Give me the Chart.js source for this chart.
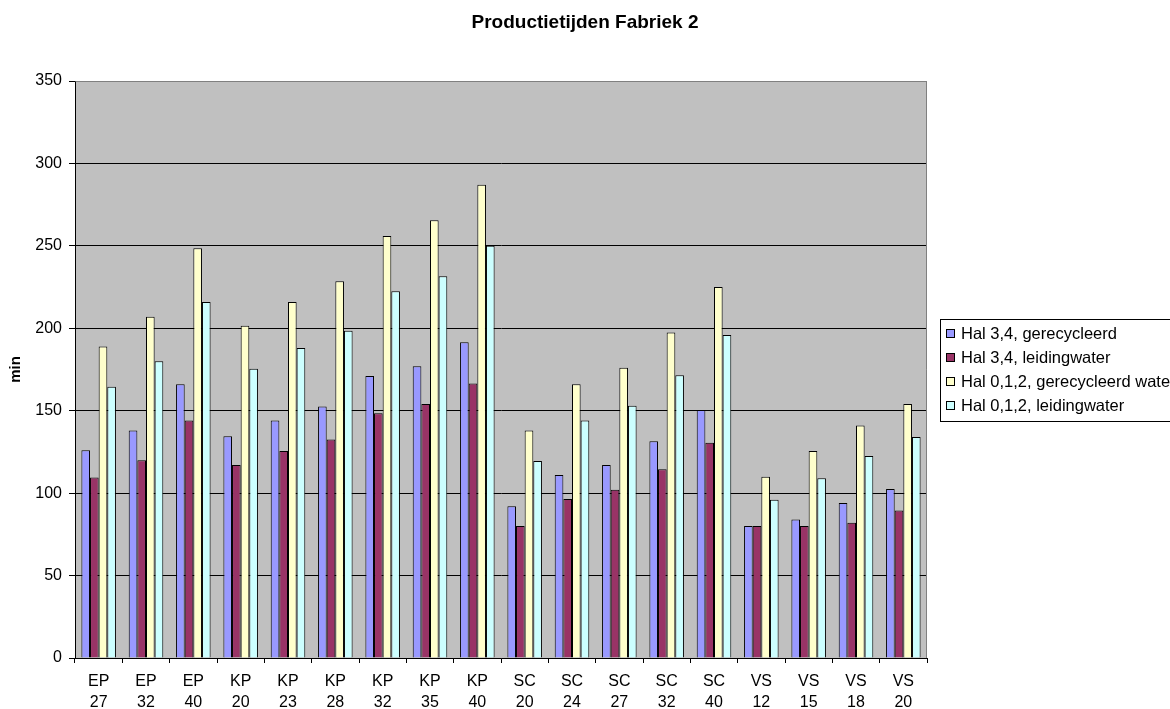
<!DOCTYPE html>
<html>
<head>
<meta charset="utf-8">
<title>Productietijden Fabriek 2</title>
<script src="https://cdn.jsdelivr.net/npm/chart.js@4/dist/chart.umd.min.js"></script>
<style>
  html, body { margin: 0; padding: 0; background: #ffffff; }
  #wrap { width: 1170px; height: 709px; position: relative; }
</style>
</head>
<body>
<div id="wrap"><canvas id="chart" width="1170" height="709"></canvas></div>
<script>
// Product groups and sizes (two-line category labels)
const productTypes = ["EP", "EP", "EP", "KP", "KP", "KP", "KP", "KP", "KP", "SC", "SC", "SC", "SC", "SC", "VS", "VS", "VS", "VS"];
const productSizes = ["27", "32", "40", "20", "23", "28", "32", "35", "40", "20", "24", "27", "32", "40", "12", "15", "18", "20"];

// Production times in minutes
const hal34Gerecycleerd = [126, 138, 166, 134.5, 144, 152.5, 171, 177, 191.5, 92, 111, 117, 131.5, 150.5, 80, 84, 94, 102.5];
const hal34Leidingwater = [109.5, 120, 144, 117, 125.5, 132.5, 148.5, 154, 166.5, 80, 96.5, 102, 114.5, 130.5, 80, 80, 82, 89.5];
const hal012Gerecycleerd = [189, 207, 248.5, 201.5, 216, 228.5, 256, 265.5, 287, 138, 166, 176, 197.5, 225, 110, 125.5, 141, 154];
const hal012Leidingwater = [164.5, 180, 216, 175.5, 188, 198.5, 222.5, 231.5, 250, 119.5, 144, 153, 171.5, 196, 96, 109, 122.5, 134];

const seriesNames = ["Hal 3,4, gerecycleerd", "Hal 3,4, leidingwater", "Hal 0,1,2, gerecycleerd water", "Hal 0,1,2, leidingwater"];
const seriesColors = ["#9999FF", "#993366", "#FFFFCC", "#CCFFFF"];

const yTicks = { min: 0, max: 350, step: 50 };
const chartTitle = "Productietijden Fabriek 2";
const yTitle = "min";

const FONT = "'Liberation Sans', Arial, Helvetica, sans-serif";

const labels = productTypes.map((t, i) => [t, productSizes[i]]);
const seriesValues = [hal34Gerecycleerd, hal34Leidingwater, hal012Gerecycleerd, hal012Leidingwater];

// Grey plot background and the grey frame on top/right
const plotBackground = {
  id: "plotBackground",
  beforeDraw(chart) {
    const { ctx, chartArea: a } = chart;
    ctx.save();
    ctx.fillStyle = "#C0C0C0";
    ctx.fillRect(a.left, a.top, a.right - a.left, a.bottom - a.top);
    ctx.restore();
  },
  afterDatasetsDraw(chart) {
    const { ctx, chartArea: a } = chart;
    ctx.save();
    ctx.strokeStyle = "#808080";
    ctx.lineWidth = 1;
    ctx.beginPath();
    ctx.moveTo(Math.round(a.left) + 0.5, Math.round(a.top) + 0.5);
    ctx.lineTo(Math.round(a.right) - 0.5, Math.round(a.top) + 0.5);
    ctx.lineTo(Math.round(a.right) - 0.5, Math.round(a.bottom));
    ctx.stroke();
    ctx.restore();
  }
};

// Chart title centred over the whole canvas
const pageTitle = {
  id: "pageTitle",
  afterDraw(chart) {
    const { ctx, width } = chart;
    ctx.save();
    ctx.font = "bold 19px " + FONT;
    ctx.fillStyle = "#000";
    ctx.textAlign = "center";
    ctx.textBaseline = "alphabetic";
    ctx.fillText(chartTitle, width / 2, 28);
    ctx.restore();
  }
};

// Boxed legend to the right of the plot, centred on the plot height
const boxedLegend = {
  id: "boxedLegend",
  afterDraw(chart) {
    const { ctx, chartArea: a } = chart;
    const sets = chart.data.datasets;
    const rowH = 24;
    const boxH = sets.length * rowH + 6;
    const left = Math.round(a.right) + 13;
    const top = Math.round((a.top + a.bottom) / 2 - boxH / 2);
    ctx.save();
    ctx.fillStyle = "#fff";
    ctx.fillRect(left, top, 400, boxH);
    ctx.strokeStyle = "#000";
    ctx.lineWidth = 1;
    ctx.strokeRect(left + 0.5, top + 0.5, 400, boxH);
    ctx.font = "16.5px " + FONT;
    ctx.textBaseline = "middle";
    ctx.textAlign = "left";
    sets.forEach((ds, i) => {
      const cy = top + 15 + i * rowH;
      ctx.fillStyle = ds.backgroundColor;
      ctx.fillRect(left + 6, cy - 5, 9, 9);
      ctx.strokeStyle = "#000";
      ctx.strokeRect(left + 6.5, cy - 4.5, 8, 8);
      ctx.fillStyle = "#000";
      ctx.fillText(ds.label, left + 21, cy);
    });
    ctx.restore();
  }
};

new Chart(document.getElementById("chart"), {
  type: "bar",
  data: {
    labels: labels,
    datasets: seriesValues.map((vals, i) => ({
      label: seriesNames[i],
      data: vals,
      backgroundColor: seriesColors[i],
      borderColor: "#000000",
      borderWidth: 1,
      borderSkipped: "bottom",
      categoryPercentage: 0.73,
      barPercentage: 1.0
    }))
  },
  options: {
    responsive: false,
    animation: false,
    devicePixelRatio: 1,
    layout: { padding: { top: 81, right: 243, bottom: 0, left: 0 } },
    plugins: {
      legend: { display: false },
      title: { display: false },
      tooltip: { enabled: false }
    },
    scales: {
      x: {
        afterFit(scale) { scale.height = 51; },
        grid: {
          offset: true,
          drawOnChartArea: false,
          drawTicks: true,
          tickLength: 5,
          color: "#000",
          tickColor: "#000"
        },
        border: { color: "#000", width: 1 },
        ticks: {
          color: "#000",
          padding: 8,
          maxRotation: 0,
          autoSkip: false,
          font: { family: FONT, size: 16, lineHeight: 1.3125 }
        }
      },
      y: {
        min: yTicks.min,
        max: yTicks.max,
        afterFit(scale) { scale.width = 75; },
        grid: {
          color: (c) => (c.tick && c.tick.value === yTicks.max ? "#808080" : "#000"),
          tickColor: "#000",
          tickLength: 6,
          lineWidth: 1
        },
        border: { color: "#000", width: 1 },
        ticks: {
          stepSize: yTicks.step,
          color: "#000",
          padding: 7,
          font: { family: FONT, size: 16 }
        },
        title: {
          display: true,
          text: yTitle,
          color: "#000",
          padding: { top: 7, bottom: 0 },
          font: { family: FONT, size: 15, weight: "bold" }
        }
      }
    }
  },
  plugins: [plotBackground, pageTitle, boxedLegend]
});
</script>
</body>
</html>
